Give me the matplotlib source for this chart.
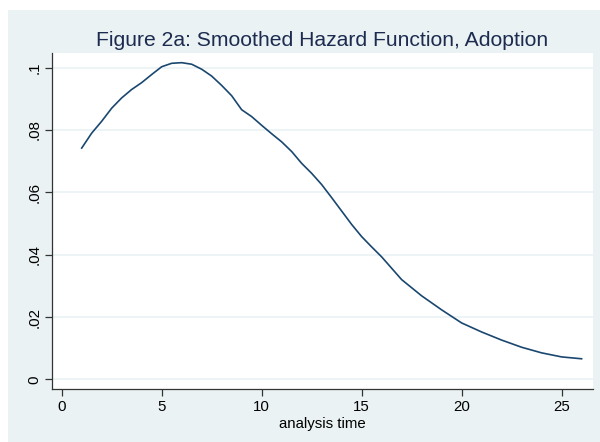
import matplotlib
matplotlib.use("Agg")
import matplotlib.pyplot as plt
from matplotlib.patches import Rectangle

# smoothed hazard
t = [1.0, 1.5, 2.0, 2.5, 3.0, 3.5, 4.0, 4.5, 5.0, 5.5, 6.0, 6.5, 7.0, 7.5,
     8.0, 8.5, 9.0, 9.5, 10.0, 10.5, 11.0, 11.5, 12.0, 12.5, 13.0, 13.5,
     14.0, 14.5, 15.0, 15.5, 16.0, 17.0, 18.0, 19.0, 20.0, 21.0, 22.0,
     23.0, 24.0, 25.0, 26.0]
hazard = [.0742, .0790, .0828, .0870, .0903, .0930, .0952, .0978, .1003,
          .1014, .1016, .1011, .0995, .0973, .0943, .0910, .0865, .0843,
          .0815, .0788, .0762, .0731, .0693, .0661, .0625, .0583, .0540,
          .0497, .0458, .0425, .0393, .0320, .0268, .0223, .0181, .0152,
          .0126, .0103, .0085, .0072, .0066]
xticks = [0, 5, 10, 15, 20, 25]
yticks = [0, .02, .04, .06, .08, .1]
ylabels = ["0", ".02", ".04", ".06", ".08", ".1"]

plt.rcParams['font.family'] = ['Liberation Sans', 'DejaVu Sans']

bg = '#eaf2f3'
navy = '#1a476f'

fig = plt.figure(figsize=(6, 4.42), dpi=100)
fig.patch.set_facecolor('white')
fig.patches.append(Rectangle((8/600, 0), 592/600, 432/442, transform=fig.transFigure,
                             facecolor=bg, edgecolor='none', zorder=-5))

ax = fig.add_axes([52.3/600, 1 - 388.7/442, (593 - 52.3)/600, (388.7 - 52.7)/442])
ax.set_zorder(1)
ax.set_facecolor('white')
ax.plot(t, hazard, color=navy, lw=1.2, zorder=3)

ax.set_xlim(-0.47, 26.57)
ax.set_ylim(-0.003, 0.1048)
ax.set_xticks(xticks)
ax.set_yticks(yticks)
ax.set_yticklabels(ylabels, rotation=90, va='center')
ax.grid(axis='y', color=bg, lw=1.2)
ax.set_axisbelow(True)

for s in ['top', 'right']:
    ax.spines[s].set_visible(False)
for s in ['left', 'bottom']:
    ax.spines[s].set_color('#333333')
    ax.spines[s].set_linewidth(0.9)
ax.tick_params(direction='out', length=5, width=0.9, color='#333333',
               labelsize=10.8, labelcolor='black', pad=3)

ax.set_xlabel('analysis time', fontsize=10.8)
ax.xaxis.set_label_coords(0.5, -0.104)
ax.xaxis.label.set_va('center')

fig.text(322/600, 1 - 40/442, 'Figure 2a: Smoothed Hazard Function, Adoption',
         ha='center', va='center', fontsize=15.2, color='#1c2b4f', zorder=2)

fig.savefig('out.png', dpi=100)
